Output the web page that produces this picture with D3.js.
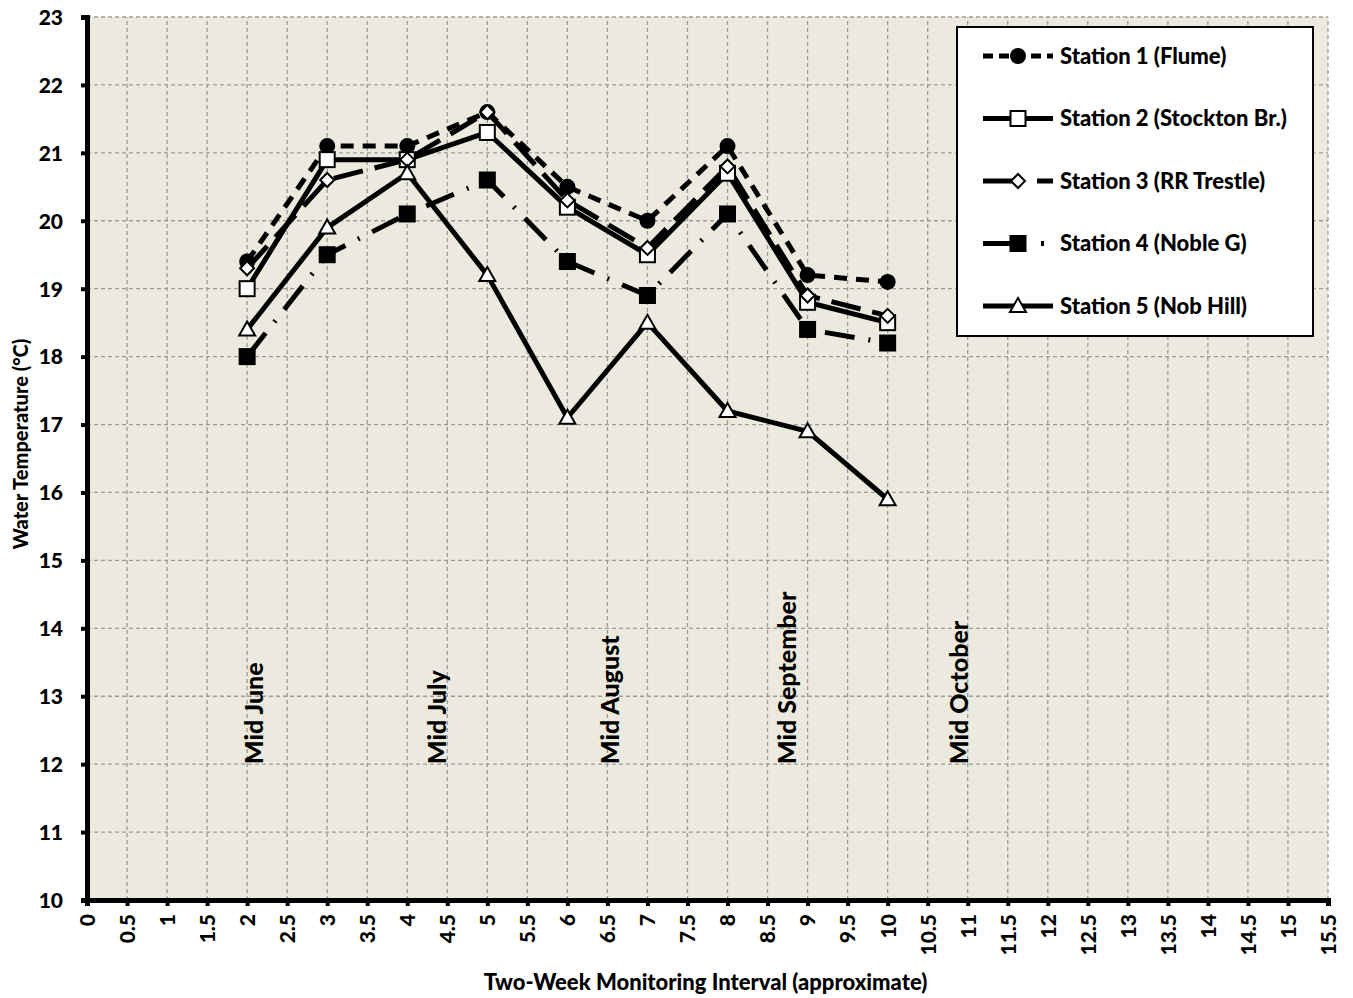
<!DOCTYPE html>
<html>
<head>
    <script src="https://cdnjs.cloudflare.com/ajax/libs/d3/7.8.5/d3.min.js"></script>
    <style>
        body { margin: 0; background: #fff; }
        text { font-family: Lato, "Open Sans", sans-serif; font-weight: 900; }
        .grid line { stroke: #9a9a9a; stroke-width: 1.3px; stroke-dasharray: 4,3; }
    </style>
</head>
<body>
    <div id="chart"></div>
    <script>
        const width = 1353, height = 998;
        const margin = { top: 17, right: 25, bottom: 98, left: 87 };

        const intervals = [2, 3, 4, 5, 6, 7, 8, 9, 10];
        const station1 = [19.4, 21.1, 21.1, 21.6, 20.5, 20.0, 21.1, 19.2, 19.1];
        const station2 = [19.0, 20.9, 20.9, 21.3, 20.2, 19.5, 20.7, 18.8, 18.5];
        const station3 = [19.3, 20.6, 20.9, 21.6, 20.3, 19.6, 20.8, 18.9, 18.6];
        const station4 = [18.0, 19.5, 20.1, 20.6, 19.4, 18.9, 20.1, 18.4, 18.2];
        const station5 = [18.4, 19.9, 20.7, 19.2, 17.1, 18.5, 17.2, 16.9, 15.9];
        const stationNames = ["Station 1 (Flume)", "Station 2 (Stockton Br.)", "Station 3 (RR Trestle)", "Station 4 (Noble G)", "Station 5 (Nob Hill)"];
        const xTicks = d3.range(0, 15.51, 0.5);
        const yTicks = d3.range(10, 23.01, 1);
        const monthLabels = ["Mid June", "Mid July", "Mid August", "Mid September", "Mid October"];
        const monthPos = [2.1, 4.38, 6.55, 8.75, 10.9];

        const series = [
            { name: stationNames[0], values: station1, dash: "13,9", legendDash: "10,6", marker: "circle" },
            { name: stationNames[1], values: station2, dash: null, legendDash: null, marker: "square" },
            { name: stationNames[2], values: station3, dash: "30,12", legendDash: "40,14", marker: "diamond" },
            { name: stationNames[3], values: station4, dash: "30,14,2,14", legendDash: "40,18,3,30", marker: "squareFilled" },
            { name: stationNames[4], values: station5, dash: null, legendDash: null, marker: "triangle" }
        ];

        const svg = d3.select("#chart").append("svg").attr("width", width).attr("height", height);
        const iw = width - margin.left - margin.right, ih = height - margin.top - margin.bottom;

        const x = d3.scaleLinear().domain([0, 15.5]).range([margin.left, margin.left + iw]);
        const y = d3.scaleLinear().domain([10, 23]).range([margin.top + ih, margin.top]);

        svg.append("rect")
            .attr("x", x(0)).attr("y", y(23))
            .attr("width", x(15.5) - x(0)).attr("height", y(10) - y(23))
            .attr("fill", "#eceade");

        // grid
        const grid = svg.append("g").attr("class", "grid");
        grid.selectAll(".gx").data(xTicks.filter(d => d > 0)).enter().append("line")
            .attr("x1", d => x(d)).attr("x2", d => x(d))
            .attr("y1", y(10)).attr("y2", y(23));
        grid.selectAll(".gy").data(yTicks.filter(d => d > 10)).enter().append("line")
            .attr("x1", x(0)).attr("x2", x(15.5))
            .attr("y1", d => y(d)).attr("y2", d => y(d));

        // axes
        const yAxis = svg.append("g")
            .attr("transform", `translate(${x(0)},0)`)
            .call(d3.axisLeft(y).tickValues(yTicks).tickSize(6).tickFormat(d3.format("d")));
        const xAxis = svg.append("g")
            .attr("transform", `translate(0,${y(10)})`)
            .call(d3.axisBottom(x).tickValues(xTicks).tickSize(6).tickFormat(d => d));
        [yAxis, xAxis].forEach(a => {
            a.select(".domain").attr("stroke", "#000").attr("stroke-width", 5);
            a.selectAll(".tick line").attr("stroke", "#000").attr("stroke-width", 4);
        });
        yAxis.selectAll(".tick text")
            .attr("x", -24).attr("dy", "0.35em")
            .style("font-size", "21px").attr("fill", "#000");
        xAxis.selectAll(".tick text")
            .attr("transform", "rotate(-90)")
            .attr("x", -14).attr("y", 0).attr("dy", "0.35em")
            .attr("text-anchor", "end")
            .style("font-size", "21px").attr("fill", "#000");

        // month labels
        svg.selectAll(".month").data(monthLabels).enter().append("text")
            .attr("transform", (d, i) => `translate(${x(monthPos[i]) + 8},${y(12.0)}) rotate(-90)`)
            .attr("text-anchor", "start")
            .style("font-size", "25px")
            .text(d => d);

        // lines
        const line = d3.line().x((d, i) => x(intervals[i])).y(d => y(d));
        const gLines = svg.append("g");
        series.forEach(s => {
            gLines.append("path")
                .datum(s.values)
                .attr("d", line)
                .attr("fill", "none")
                .attr("stroke", "#000")
                .attr("stroke-width", 5)
                .attr("stroke-dasharray", s.dash)
                .attr("stroke-linejoin", "round");
        });

        function drawMarker(g, type, cx, cy) {
            if (type === "circle") {
                g.append("circle").attr("cx", cx).attr("cy", cy).attr("r", 8).attr("fill", "#000");
            } else if (type === "square" || type === "squareFilled") {
                g.append("rect").attr("x", cx - 7.5).attr("y", cy - 7.5).attr("width", 15).attr("height", 15)
                    .attr("fill", type === "square" ? "#fff" : "#000").attr("stroke", "#000").attr("stroke-width", 2);
            } else if (type === "diamond") {
                g.append("path").attr("d", `M${cx},${cy - 7}L${cx + 7},${cy}L${cx},${cy + 7}L${cx - 7},${cy}Z`)
                    .attr("fill", "#fff").attr("stroke", "#000").attr("stroke-width", 2);
            } else if (type === "triangle") {
                g.append("path").attr("d", `M${cx},${cy - 8}L${cx + 8},${cy + 6}L${cx - 8},${cy + 6}Z`)
                    .attr("fill", "#fff").attr("stroke", "#000").attr("stroke-width", 2);
            }
        }

        const gMarks = svg.append("g");
        series.forEach(s => {
            s.values.forEach((v, i) => drawMarker(gMarks, s.marker, x(intervals[i]), y(v)));
        });

        // legend
        const lg = svg.append("g");
        lg.append("rect").attr("x", 957).attr("y", 27).attr("width", 356).attr("height", 309)
            .attr("fill", "#fff").attr("stroke", "#000").attr("stroke-width", 2);
        series.forEach((s, i) => {
            const ly = 56 + i * 62.5;
            lg.append("line").attr("x1", 983).attr("x2", 1053).attr("y1", ly).attr("y2", ly)
                .attr("stroke", "#000").attr("stroke-width", 5).attr("stroke-dasharray", s.legendDash);
            drawMarker(lg, s.marker, 1018, ly);
            lg.append("text").attr("x", 1060).attr("y", ly).attr("dy", "0.35em")
                .style("font-size", "22px").text(s.name);
        });

        // axis titles
        svg.append("text")
            .attr("transform", "translate(28,444) rotate(-90)")
            .attr("text-anchor", "middle").style("font-size", "20px")
            .text("Water Temperature (°C)");
        svg.append("text")
            .attr("x", (x(0) + x(15.5)) / 2 - 2).attr("y", 990)
            .attr("text-anchor", "middle").style("font-size", "22px")
            .text("Two-Week Monitoring Interval (approximate)");
    </script>
</body>
</html>
